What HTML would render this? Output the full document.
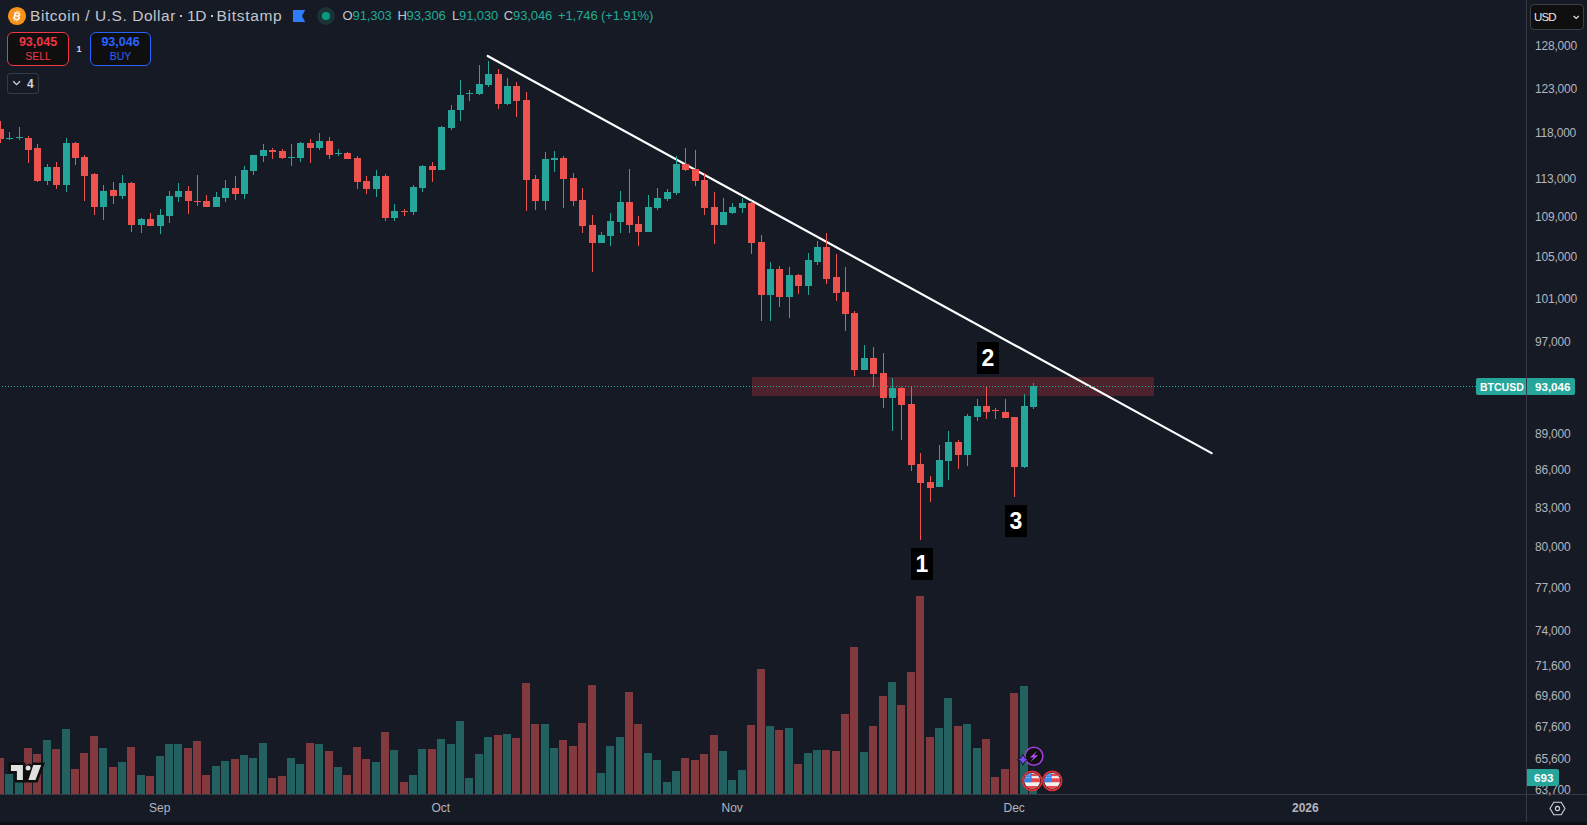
<!DOCTYPE html>
<html><head><meta charset="utf-8">
<style>
html,body{margin:0;padding:0;}
body{width:1587px;height:825px;background:#161a25;position:relative;overflow:hidden;font-family:"Liberation Sans",sans-serif;}
svg{position:absolute;left:0;top:0;}
.pl{position:absolute;left:1535px;font-size:12px;letter-spacing:-0.2px;line-height:15px;color:#b2b5be;white-space:nowrap;}
.tl{position:absolute;top:801px;font-size:12px;line-height:15px;color:#b2b5be;white-space:nowrap;}
.hd{position:absolute;white-space:nowrap;}
.v{color:#22ab94}
.tt{top:6px;font-size:15.5px;line-height:20px;color:#c3c6cd}
.oh{top:8px;font-size:13px;line-height:16px;color:#c3c6cd;letter-spacing:-0.1px}
.btn{position:absolute;border:1px solid;border-radius:6px;background:#0f0f0f;text-align:center;box-sizing:content-box}
.bp{font-size:12.5px;font-weight:bold;line-height:13px;margin-top:3px}
.bl{font-size:10.5px;line-height:12px;margin-top:1px}
</style></head><body>
<svg width="1587" height="825" viewBox="0 0 1587 825">
<rect x="752" y="377" width="402" height="19" fill="#4e222d"/>
<line x1="487.7" y1="56" x2="1211.6" y2="453.1" stroke="#ffffff" stroke-width="2.2" stroke-linecap="round"/>
<rect x="-4" y="758" width="8" height="36" fill="#823a3e"/>
<rect x="5" y="774" width="8" height="20" fill="#22615f"/>
<rect x="15" y="772" width="8" height="22" fill="#22615f"/>
<rect x="24" y="748" width="8" height="46" fill="#823a3e"/>
<rect x="33" y="754" width="8" height="40" fill="#823a3e"/>
<rect x="43" y="740" width="8" height="54" fill="#22615f"/>
<rect x="52" y="749" width="8" height="45" fill="#823a3e"/>
<rect x="62" y="729" width="8" height="65" fill="#22615f"/>
<rect x="71" y="769" width="8" height="25" fill="#823a3e"/>
<rect x="80" y="753" width="8" height="41" fill="#823a3e"/>
<rect x="90" y="736" width="8" height="58" fill="#823a3e"/>
<rect x="99" y="748" width="8" height="46" fill="#22615f"/>
<rect x="109" y="767" width="8" height="27" fill="#823a3e"/>
<rect x="118" y="762" width="8" height="32" fill="#22615f"/>
<rect x="127" y="747" width="8" height="47" fill="#823a3e"/>
<rect x="137" y="775" width="8" height="19" fill="#22615f"/>
<rect x="146" y="776" width="8" height="18" fill="#823a3e"/>
<rect x="156" y="756" width="8" height="38" fill="#22615f"/>
<rect x="165" y="744" width="8" height="50" fill="#22615f"/>
<rect x="174" y="744" width="8" height="50" fill="#22615f"/>
<rect x="184" y="748" width="8" height="46" fill="#823a3e"/>
<rect x="193" y="741" width="8" height="53" fill="#823a3e"/>
<rect x="202" y="775" width="8" height="19" fill="#823a3e"/>
<rect x="212" y="766" width="8" height="28" fill="#22615f"/>
<rect x="221" y="761" width="8" height="33" fill="#22615f"/>
<rect x="231" y="759" width="8" height="35" fill="#823a3e"/>
<rect x="240" y="755" width="8" height="39" fill="#22615f"/>
<rect x="249" y="758" width="8" height="36" fill="#22615f"/>
<rect x="259" y="743" width="8" height="51" fill="#22615f"/>
<rect x="268" y="778" width="8" height="16" fill="#823a3e"/>
<rect x="278" y="776" width="8" height="18" fill="#823a3e"/>
<rect x="287" y="758" width="8" height="36" fill="#22615f"/>
<rect x="296" y="764" width="8" height="30" fill="#22615f"/>
<rect x="306" y="743" width="8" height="51" fill="#823a3e"/>
<rect x="315" y="744" width="8" height="50" fill="#22615f"/>
<rect x="325" y="751" width="8" height="43" fill="#823a3e"/>
<rect x="334" y="767" width="8" height="27" fill="#22615f"/>
<rect x="343" y="775" width="8" height="19" fill="#823a3e"/>
<rect x="353" y="747" width="8" height="47" fill="#823a3e"/>
<rect x="362" y="759" width="8" height="35" fill="#823a3e"/>
<rect x="372" y="762" width="8" height="32" fill="#22615f"/>
<rect x="381" y="732" width="8" height="62" fill="#823a3e"/>
<rect x="390" y="750" width="8" height="44" fill="#22615f"/>
<rect x="400" y="782" width="8" height="12" fill="#823a3e"/>
<rect x="409" y="775" width="8" height="19" fill="#22615f"/>
<rect x="418" y="749" width="8" height="45" fill="#22615f"/>
<rect x="428" y="749" width="8" height="45" fill="#823a3e"/>
<rect x="437" y="739" width="8" height="55" fill="#22615f"/>
<rect x="447" y="744" width="8" height="50" fill="#22615f"/>
<rect x="456" y="721" width="8" height="73" fill="#22615f"/>
<rect x="465" y="778" width="8" height="16" fill="#22615f"/>
<rect x="475" y="754" width="8" height="40" fill="#22615f"/>
<rect x="484" y="737" width="8" height="57" fill="#22615f"/>
<rect x="494" y="735" width="8" height="59" fill="#823a3e"/>
<rect x="503" y="734" width="8" height="60" fill="#22615f"/>
<rect x="512" y="738" width="8" height="56" fill="#823a3e"/>
<rect x="522" y="683" width="8" height="111" fill="#823a3e"/>
<rect x="531" y="724" width="8" height="70" fill="#823a3e"/>
<rect x="541" y="724" width="8" height="70" fill="#22615f"/>
<rect x="550" y="748" width="8" height="46" fill="#22615f"/>
<rect x="559" y="740" width="8" height="54" fill="#823a3e"/>
<rect x="569" y="746" width="8" height="48" fill="#823a3e"/>
<rect x="578" y="723" width="8" height="71" fill="#823a3e"/>
<rect x="588" y="685" width="8" height="109" fill="#823a3e"/>
<rect x="597" y="773" width="8" height="21" fill="#22615f"/>
<rect x="606" y="746" width="8" height="48" fill="#22615f"/>
<rect x="616" y="737" width="8" height="57" fill="#22615f"/>
<rect x="625" y="692" width="8" height="102" fill="#823a3e"/>
<rect x="634" y="724" width="8" height="70" fill="#823a3e"/>
<rect x="644" y="753" width="8" height="41" fill="#22615f"/>
<rect x="653" y="760" width="8" height="34" fill="#22615f"/>
<rect x="663" y="782" width="8" height="12" fill="#22615f"/>
<rect x="672" y="771" width="8" height="23" fill="#22615f"/>
<rect x="681" y="758" width="8" height="36" fill="#823a3e"/>
<rect x="691" y="760" width="8" height="34" fill="#823a3e"/>
<rect x="700" y="754" width="8" height="40" fill="#823a3e"/>
<rect x="710" y="735" width="8" height="59" fill="#823a3e"/>
<rect x="719" y="751" width="8" height="43" fill="#22615f"/>
<rect x="728" y="780" width="8" height="14" fill="#22615f"/>
<rect x="738" y="770" width="8" height="24" fill="#22615f"/>
<rect x="747" y="725" width="8" height="69" fill="#823a3e"/>
<rect x="757" y="669" width="8" height="125" fill="#823a3e"/>
<rect x="766" y="726" width="8" height="68" fill="#22615f"/>
<rect x="775" y="730" width="8" height="64" fill="#823a3e"/>
<rect x="785" y="728" width="8" height="66" fill="#22615f"/>
<rect x="794" y="764" width="8" height="30" fill="#823a3e"/>
<rect x="804" y="753" width="8" height="41" fill="#22615f"/>
<rect x="813" y="750" width="8" height="44" fill="#22615f"/>
<rect x="822" y="750" width="8" height="44" fill="#823a3e"/>
<rect x="832" y="751" width="8" height="43" fill="#823a3e"/>
<rect x="841" y="714" width="8" height="80" fill="#823a3e"/>
<rect x="850" y="647" width="8" height="147" fill="#823a3e"/>
<rect x="860" y="752" width="8" height="42" fill="#22615f"/>
<rect x="869" y="726" width="8" height="68" fill="#823a3e"/>
<rect x="879" y="696" width="8" height="98" fill="#823a3e"/>
<rect x="888" y="682" width="8" height="112" fill="#22615f"/>
<rect x="897" y="705" width="8" height="89" fill="#823a3e"/>
<rect x="907" y="672" width="8" height="122" fill="#823a3e"/>
<rect x="916" y="596" width="8" height="198" fill="#823a3e"/>
<rect x="926" y="737" width="8" height="57" fill="#823a3e"/>
<rect x="935" y="728" width="8" height="66" fill="#22615f"/>
<rect x="944" y="698" width="8" height="96" fill="#22615f"/>
<rect x="954" y="726" width="8" height="68" fill="#823a3e"/>
<rect x="963" y="724" width="8" height="70" fill="#22615f"/>
<rect x="973" y="748" width="8" height="46" fill="#22615f"/>
<rect x="982" y="739" width="8" height="55" fill="#823a3e"/>
<rect x="991" y="777" width="8" height="17" fill="#823a3e"/>
<rect x="1001" y="769" width="8" height="25" fill="#823a3e"/>
<rect x="1010" y="693" width="8" height="101" fill="#823a3e"/>
<rect x="1020" y="686" width="8" height="108" fill="#22615f"/>
<rect x="1029" y="777" width="8" height="17" fill="#22615f"/>
<rect x="0" y="121" width="1" height="22" fill="#ef5350"/>
<rect x="-3" y="129" width="7" height="10" fill="#ef5350"/>
<rect x="9" y="132" width="1" height="8" fill="#26a69a"/>
<rect x="6" y="138" width="7" height="1" fill="#26a69a"/>
<rect x="19" y="127" width="1" height="13" fill="#26a69a"/>
<rect x="16" y="137" width="7" height="1" fill="#26a69a"/>
<rect x="28" y="136" width="1" height="27" fill="#ef5350"/>
<rect x="25" y="138" width="7" height="12" fill="#ef5350"/>
<rect x="37" y="144" width="1" height="38" fill="#ef5350"/>
<rect x="34" y="148" width="7" height="33" fill="#ef5350"/>
<rect x="47" y="164" width="1" height="21" fill="#26a69a"/>
<rect x="44" y="167" width="7" height="14" fill="#26a69a"/>
<rect x="56" y="162" width="1" height="27" fill="#ef5350"/>
<rect x="53" y="167" width="7" height="18" fill="#ef5350"/>
<rect x="66" y="138" width="1" height="54" fill="#26a69a"/>
<rect x="63" y="143" width="7" height="42" fill="#26a69a"/>
<rect x="75" y="142" width="1" height="23" fill="#ef5350"/>
<rect x="72" y="143" width="7" height="15" fill="#ef5350"/>
<rect x="84" y="155" width="1" height="46" fill="#ef5350"/>
<rect x="81" y="157" width="7" height="19" fill="#ef5350"/>
<rect x="94" y="173" width="1" height="42" fill="#ef5350"/>
<rect x="91" y="174" width="7" height="33" fill="#ef5350"/>
<rect x="103" y="185" width="1" height="35" fill="#26a69a"/>
<rect x="100" y="191" width="7" height="16" fill="#26a69a"/>
<rect x="113" y="182" width="1" height="22" fill="#ef5350"/>
<rect x="110" y="190" width="7" height="6" fill="#ef5350"/>
<rect x="122" y="175" width="1" height="24" fill="#26a69a"/>
<rect x="119" y="183" width="7" height="13" fill="#26a69a"/>
<rect x="131" y="182" width="1" height="50" fill="#ef5350"/>
<rect x="128" y="183" width="7" height="42" fill="#ef5350"/>
<rect x="141" y="218" width="1" height="15" fill="#26a69a"/>
<rect x="138" y="219" width="7" height="6" fill="#26a69a"/>
<rect x="150" y="213" width="1" height="13" fill="#ef5350"/>
<rect x="147" y="219" width="7" height="7" fill="#ef5350"/>
<rect x="160" y="209" width="1" height="25" fill="#26a69a"/>
<rect x="157" y="215" width="7" height="11" fill="#26a69a"/>
<rect x="169" y="191" width="1" height="32" fill="#26a69a"/>
<rect x="166" y="196" width="7" height="20" fill="#26a69a"/>
<rect x="178" y="183" width="1" height="19" fill="#26a69a"/>
<rect x="175" y="191" width="7" height="6" fill="#26a69a"/>
<rect x="188" y="186" width="1" height="28" fill="#ef5350"/>
<rect x="185" y="191" width="7" height="10" fill="#ef5350"/>
<rect x="197" y="175" width="1" height="31" fill="#ef5350"/>
<rect x="194" y="201" width="7" height="1" fill="#ef5350"/>
<rect x="206" y="195" width="1" height="12" fill="#ef5350"/>
<rect x="203" y="201" width="7" height="6" fill="#ef5350"/>
<rect x="216" y="192" width="1" height="15" fill="#26a69a"/>
<rect x="213" y="197" width="7" height="10" fill="#26a69a"/>
<rect x="225" y="180" width="1" height="22" fill="#26a69a"/>
<rect x="222" y="188" width="7" height="10" fill="#26a69a"/>
<rect x="235" y="176" width="1" height="24" fill="#ef5350"/>
<rect x="232" y="188" width="7" height="6" fill="#ef5350"/>
<rect x="244" y="166" width="1" height="33" fill="#26a69a"/>
<rect x="241" y="170" width="7" height="24" fill="#26a69a"/>
<rect x="253" y="155" width="1" height="20" fill="#26a69a"/>
<rect x="250" y="155" width="7" height="16" fill="#26a69a"/>
<rect x="263" y="144" width="1" height="18" fill="#26a69a"/>
<rect x="260" y="150" width="7" height="6" fill="#26a69a"/>
<rect x="272" y="148" width="1" height="11" fill="#ef5350"/>
<rect x="269" y="150" width="7" height="2" fill="#ef5350"/>
<rect x="282" y="149" width="1" height="10" fill="#ef5350"/>
<rect x="279" y="151" width="7" height="7" fill="#ef5350"/>
<rect x="291" y="144" width="1" height="22" fill="#26a69a"/>
<rect x="288" y="157" width="7" height="1" fill="#26a69a"/>
<rect x="300" y="142" width="1" height="20" fill="#26a69a"/>
<rect x="297" y="143" width="7" height="15" fill="#26a69a"/>
<rect x="310" y="139" width="1" height="24" fill="#ef5350"/>
<rect x="307" y="143" width="7" height="5" fill="#ef5350"/>
<rect x="319" y="133" width="1" height="17" fill="#26a69a"/>
<rect x="316" y="141" width="7" height="7" fill="#26a69a"/>
<rect x="329" y="137" width="1" height="22" fill="#ef5350"/>
<rect x="326" y="141" width="7" height="14" fill="#ef5350"/>
<rect x="338" y="149" width="1" height="7" fill="#26a69a"/>
<rect x="335" y="153" width="7" height="1" fill="#26a69a"/>
<rect x="347" y="152" width="1" height="7" fill="#ef5350"/>
<rect x="344" y="153" width="7" height="6" fill="#ef5350"/>
<rect x="357" y="156" width="1" height="33" fill="#ef5350"/>
<rect x="354" y="158" width="7" height="24" fill="#ef5350"/>
<rect x="366" y="176" width="1" height="18" fill="#ef5350"/>
<rect x="363" y="181" width="7" height="8" fill="#ef5350"/>
<rect x="376" y="170" width="1" height="27" fill="#26a69a"/>
<rect x="373" y="176" width="7" height="13" fill="#26a69a"/>
<rect x="385" y="174" width="1" height="47" fill="#ef5350"/>
<rect x="382" y="176" width="7" height="42" fill="#ef5350"/>
<rect x="394" y="204" width="1" height="17" fill="#26a69a"/>
<rect x="391" y="211" width="7" height="7" fill="#26a69a"/>
<rect x="404" y="209" width="1" height="7" fill="#ef5350"/>
<rect x="401" y="211" width="7" height="1" fill="#ef5350"/>
<rect x="413" y="185" width="1" height="30" fill="#26a69a"/>
<rect x="410" y="187" width="7" height="25" fill="#26a69a"/>
<rect x="422" y="165" width="1" height="27" fill="#26a69a"/>
<rect x="419" y="166" width="7" height="22" fill="#26a69a"/>
<rect x="432" y="162" width="1" height="20" fill="#ef5350"/>
<rect x="429" y="166" width="7" height="4" fill="#ef5350"/>
<rect x="441" y="126" width="1" height="44" fill="#26a69a"/>
<rect x="438" y="127" width="7" height="43" fill="#26a69a"/>
<rect x="451" y="105" width="1" height="25" fill="#26a69a"/>
<rect x="448" y="110" width="7" height="18" fill="#26a69a"/>
<rect x="460" y="80" width="1" height="41" fill="#26a69a"/>
<rect x="457" y="95" width="7" height="15" fill="#26a69a"/>
<rect x="469" y="90" width="1" height="11" fill="#26a69a"/>
<rect x="466" y="93" width="7" height="1" fill="#26a69a"/>
<rect x="479" y="65" width="1" height="30" fill="#26a69a"/>
<rect x="476" y="84" width="7" height="10" fill="#26a69a"/>
<rect x="488" y="61" width="1" height="26" fill="#26a69a"/>
<rect x="485" y="74" width="7" height="11" fill="#26a69a"/>
<rect x="498" y="69" width="1" height="40" fill="#ef5350"/>
<rect x="495" y="74" width="7" height="30" fill="#ef5350"/>
<rect x="507" y="78" width="1" height="27" fill="#26a69a"/>
<rect x="504" y="86" width="7" height="18" fill="#26a69a"/>
<rect x="516" y="82" width="1" height="35" fill="#ef5350"/>
<rect x="513" y="86" width="7" height="15" fill="#ef5350"/>
<rect x="526" y="92" width="1" height="119" fill="#ef5350"/>
<rect x="523" y="100" width="7" height="80" fill="#ef5350"/>
<rect x="535" y="175" width="1" height="35" fill="#ef5350"/>
<rect x="532" y="179" width="7" height="22" fill="#ef5350"/>
<rect x="545" y="152" width="1" height="58" fill="#26a69a"/>
<rect x="542" y="159" width="7" height="42" fill="#26a69a"/>
<rect x="554" y="151" width="1" height="21" fill="#26a69a"/>
<rect x="551" y="158" width="7" height="2" fill="#26a69a"/>
<rect x="563" y="156" width="1" height="52" fill="#ef5350"/>
<rect x="560" y="158" width="7" height="21" fill="#ef5350"/>
<rect x="573" y="173" width="1" height="33" fill="#ef5350"/>
<rect x="570" y="178" width="7" height="23" fill="#ef5350"/>
<rect x="582" y="188" width="1" height="45" fill="#ef5350"/>
<rect x="579" y="200" width="7" height="26" fill="#ef5350"/>
<rect x="592" y="215" width="1" height="57" fill="#ef5350"/>
<rect x="589" y="225" width="7" height="18" fill="#ef5350"/>
<rect x="601" y="232" width="1" height="11" fill="#26a69a"/>
<rect x="598" y="235" width="7" height="8" fill="#26a69a"/>
<rect x="610" y="213" width="1" height="33" fill="#26a69a"/>
<rect x="607" y="221" width="7" height="15" fill="#26a69a"/>
<rect x="620" y="191" width="1" height="42" fill="#26a69a"/>
<rect x="617" y="202" width="7" height="20" fill="#26a69a"/>
<rect x="629" y="169" width="1" height="64" fill="#ef5350"/>
<rect x="626" y="202" width="7" height="23" fill="#ef5350"/>
<rect x="638" y="216" width="1" height="30" fill="#ef5350"/>
<rect x="635" y="224" width="7" height="8" fill="#ef5350"/>
<rect x="648" y="195" width="1" height="37" fill="#26a69a"/>
<rect x="645" y="207" width="7" height="25" fill="#26a69a"/>
<rect x="657" y="188" width="1" height="22" fill="#26a69a"/>
<rect x="654" y="198" width="7" height="10" fill="#26a69a"/>
<rect x="667" y="189" width="1" height="12" fill="#26a69a"/>
<rect x="664" y="192" width="7" height="7" fill="#26a69a"/>
<rect x="676" y="156" width="1" height="39" fill="#26a69a"/>
<rect x="673" y="164" width="7" height="29" fill="#26a69a"/>
<rect x="685" y="148" width="1" height="23" fill="#ef5350"/>
<rect x="682" y="164" width="7" height="6" fill="#ef5350"/>
<rect x="695" y="150" width="1" height="36" fill="#ef5350"/>
<rect x="692" y="169" width="7" height="12" fill="#ef5350"/>
<rect x="704" y="173" width="1" height="42" fill="#ef5350"/>
<rect x="701" y="180" width="7" height="28" fill="#ef5350"/>
<rect x="714" y="192" width="1" height="52" fill="#ef5350"/>
<rect x="711" y="207" width="7" height="18" fill="#ef5350"/>
<rect x="723" y="198" width="1" height="27" fill="#26a69a"/>
<rect x="720" y="212" width="7" height="13" fill="#26a69a"/>
<rect x="732" y="203" width="1" height="11" fill="#26a69a"/>
<rect x="729" y="207" width="7" height="6" fill="#26a69a"/>
<rect x="742" y="198" width="1" height="15" fill="#26a69a"/>
<rect x="739" y="203" width="7" height="5" fill="#26a69a"/>
<rect x="751" y="201" width="1" height="53" fill="#ef5350"/>
<rect x="748" y="203" width="7" height="40" fill="#ef5350"/>
<rect x="761" y="235" width="1" height="86" fill="#ef5350"/>
<rect x="758" y="242" width="7" height="53" fill="#ef5350"/>
<rect x="770" y="262" width="1" height="59" fill="#26a69a"/>
<rect x="767" y="269" width="7" height="26" fill="#26a69a"/>
<rect x="779" y="266" width="1" height="41" fill="#ef5350"/>
<rect x="776" y="269" width="7" height="28" fill="#ef5350"/>
<rect x="789" y="267" width="1" height="51" fill="#26a69a"/>
<rect x="786" y="275" width="7" height="22" fill="#26a69a"/>
<rect x="798" y="274" width="1" height="20" fill="#ef5350"/>
<rect x="795" y="275" width="7" height="11" fill="#ef5350"/>
<rect x="808" y="253" width="1" height="42" fill="#26a69a"/>
<rect x="805" y="260" width="7" height="26" fill="#26a69a"/>
<rect x="817" y="241" width="1" height="24" fill="#26a69a"/>
<rect x="814" y="247" width="7" height="15" fill="#26a69a"/>
<rect x="826" y="233" width="1" height="51" fill="#ef5350"/>
<rect x="823" y="247" width="7" height="32" fill="#ef5350"/>
<rect x="836" y="254" width="1" height="47" fill="#ef5350"/>
<rect x="833" y="277" width="7" height="16" fill="#ef5350"/>
<rect x="845" y="267" width="1" height="64" fill="#ef5350"/>
<rect x="842" y="292" width="7" height="22" fill="#ef5350"/>
<rect x="854" y="311" width="1" height="65" fill="#ef5350"/>
<rect x="851" y="313" width="7" height="57" fill="#ef5350"/>
<rect x="864" y="345" width="1" height="25" fill="#26a69a"/>
<rect x="861" y="358" width="7" height="12" fill="#26a69a"/>
<rect x="873" y="347" width="1" height="40" fill="#ef5350"/>
<rect x="870" y="358" width="7" height="16" fill="#ef5350"/>
<rect x="883" y="353" width="1" height="55" fill="#ef5350"/>
<rect x="880" y="373" width="7" height="25" fill="#ef5350"/>
<rect x="892" y="378" width="1" height="53" fill="#26a69a"/>
<rect x="889" y="388" width="7" height="10" fill="#26a69a"/>
<rect x="901" y="387" width="1" height="53" fill="#ef5350"/>
<rect x="898" y="388" width="7" height="17" fill="#ef5350"/>
<rect x="911" y="386" width="1" height="85" fill="#ef5350"/>
<rect x="908" y="404" width="7" height="61" fill="#ef5350"/>
<rect x="920" y="453" width="1" height="87" fill="#ef5350"/>
<rect x="917" y="464" width="7" height="19" fill="#ef5350"/>
<rect x="930" y="476" width="1" height="26" fill="#ef5350"/>
<rect x="927" y="482" width="7" height="6" fill="#ef5350"/>
<rect x="939" y="445" width="1" height="42" fill="#26a69a"/>
<rect x="936" y="460" width="7" height="27" fill="#26a69a"/>
<rect x="948" y="431" width="1" height="49" fill="#26a69a"/>
<rect x="945" y="442" width="7" height="19" fill="#26a69a"/>
<rect x="958" y="440" width="1" height="29" fill="#ef5350"/>
<rect x="955" y="442" width="7" height="13" fill="#ef5350"/>
<rect x="967" y="414" width="1" height="52" fill="#26a69a"/>
<rect x="964" y="416" width="7" height="39" fill="#26a69a"/>
<rect x="977" y="399" width="1" height="22" fill="#26a69a"/>
<rect x="974" y="406" width="7" height="11" fill="#26a69a"/>
<rect x="986" y="386" width="1" height="33" fill="#ef5350"/>
<rect x="983" y="406" width="7" height="6" fill="#ef5350"/>
<rect x="995" y="408" width="1" height="11" fill="#ef5350"/>
<rect x="992" y="410" width="7" height="1" fill="#ef5350"/>
<rect x="1005" y="399" width="1" height="19" fill="#ef5350"/>
<rect x="1002" y="412" width="7" height="6" fill="#ef5350"/>
<rect x="1014" y="417" width="1" height="80" fill="#ef5350"/>
<rect x="1011" y="417" width="7" height="50" fill="#ef5350"/>
<rect x="1024" y="394" width="1" height="74" fill="#26a69a"/>
<rect x="1021" y="406" width="7" height="61" fill="#26a69a"/>
<rect x="1033" y="383" width="1" height="26" fill="#26a69a"/>
<rect x="1030" y="386" width="7" height="21" fill="#26a69a"/>
<line x1="0" y1="386.5" x2="1476" y2="386.5" stroke="#26a69a" stroke-width="1" stroke-dasharray="1 2" stroke-dashoffset="-2"/>
<rect x="977" y="342" width="22" height="32" fill="#000"/>
<text x="988" y="366" fill="#fff" font-size="23" font-weight="bold" text-anchor="middle" font-family="Liberation Sans, sans-serif">2</text>
<rect x="911" y="548" width="22" height="32" fill="#000"/>
<text x="922" y="572" fill="#fff" font-size="23" font-weight="bold" text-anchor="middle" font-family="Liberation Sans, sans-serif">1</text>
<rect x="1005" y="505" width="22" height="32" fill="#000"/>
<text x="1016" y="529" fill="#fff" font-size="23" font-weight="bold" text-anchor="middle" font-family="Liberation Sans, sans-serif">3</text>
<rect x="1526" y="0" width="1" height="822" fill="#363a45"/>
<rect x="0" y="794" width="1587" height="1" fill="#363a45"/>
<rect x="0" y="822" width="1587" height="3" fill="#0e0f12"/>
</svg>
<div class="pl" style="top:39.0px">128,000</div>
<div class="pl" style="top:81.5px">123,000</div>
<div class="pl" style="top:125.8px">118,000</div>
<div class="pl" style="top:172.0px">113,000</div>
<div class="pl" style="top:210.4px">109,000</div>
<div class="pl" style="top:250.3px">105,000</div>
<div class="pl" style="top:291.7px">101,000</div>
<div class="pl" style="top:334.8px">97,000</div>
<div class="pl" style="top:426.6px">89,000</div>
<div class="pl" style="top:463.2px">86,000</div>
<div class="pl" style="top:501.1px">83,000</div>
<div class="pl" style="top:540.3px">80,000</div>
<div class="pl" style="top:581.1px">77,000</div>
<div class="pl" style="top:623.5px">74,000</div>
<div class="pl" style="top:658.6px">71,600</div>
<div class="pl" style="top:688.9px">69,600</div>
<div class="pl" style="top:720.0px">67,600</div>
<div class="pl" style="top:752.0px">65,600</div>
<div class="pl" style="top:783.3px">63,700</div>

<svg width="40" height="32" style="left:0;top:0">
<circle cx="17" cy="16" r="9.1" fill="#f7931a"/>
<text x="17.2" y="19.8" fill="#fff" font-size="10.5" font-weight="bold" text-anchor="middle" font-family="Liberation Sans, sans-serif" transform="rotate(14 17 16)">B</text>
<rect x="15.5" y="10.9" width="1" height="1.6" fill="#fff" transform="rotate(14 17 16)"/>
<rect x="17.6" y="10.9" width="1" height="1.6" fill="#fff" transform="rotate(14 17 16)"/>
<rect x="15.5" y="19.6" width="1" height="1.6" fill="#fff" transform="rotate(14 17 16)"/>
<rect x="17.6" y="19.6" width="1" height="1.6" fill="#fff" transform="rotate(14 17 16)"/>
</svg>
<div class="hd tt" style="left:30px;letter-spacing:0.55px">Bitcoin / U.S. Dollar</div>
<div class="hd" style="left:179.5px;top:15px;width:2.2px;height:2.2px;background:#c3c6cd"></div>
<div class="hd tt" style="left:187px;letter-spacing:-0.3px">1D</div>
<div class="hd" style="left:210.5px;top:15px;width:2.2px;height:2.2px;background:#c3c6cd"></div>
<div class="hd tt" style="left:216.5px;letter-spacing:0.7px">Bitstamp</div>
<svg width="360" height="32" style="left:0;top:0">
<path d="M293 10 H305.2 L302 16 L305.2 22 H293 Z" fill="#2f7bff"/>
<circle cx="326" cy="16" r="8.9" fill="#1a3436"/>
<circle cx="326" cy="16" r="4.1" fill="#089981"/>
</svg>
<div class="hd oh" style="left:342.5px;">O</div>
<div class="hd oh" style="left:352.5px;color:#22ab94">91,303</div>
<div class="hd oh" style="left:397.6px;">H</div>
<div class="hd oh" style="left:406.5px;color:#22ab94">93,306</div>
<div class="hd oh" style="left:452px;">L</div>
<div class="hd oh" style="left:459px;color:#22ab94">91,030</div>
<div class="hd oh" style="left:503.7px;">C</div>
<div class="hd oh" style="left:513px;color:#22ab94">93,046</div>
<div class="hd oh" style="left:558px;color:#22ab94">+1,746</div>
<div class="hd oh" style="left:601px;color:#22ab94">(+1.91%)</div>
<div class="btn" style="left:7px;top:32px;width:60px;height:32px;border-color:#f23645">
  <div class="bp" style="color:#f23645">93,045</div><div class="bl" style="color:#f23645">SELL</div>
</div>
<div class="hd" style="left:76.5px;top:43.5px;font-size:9px;font-weight:bold;line-height:11px;color:#d1d4dc">1</div>
<div class="btn" style="left:90px;top:32px;width:59px;height:32px;border-color:#2962ff">
  <div class="bp" style="color:#2962ff">93,046</div><div class="bl" style="color:#2962ff">BUY</div>
</div>
<div class="hd" style="left:7px;top:73px;width:30px;height:19px;border:1px solid #363a45;border-radius:3px;box-sizing:content-box"></div>
<svg width="40" height="100" style="left:0;top:0">
<path d="M13.2 81.2 L16.6 84.6 L20 81.2" stroke="#d1d4dc" stroke-width="1.3" fill="none"/>
</svg>
<div class="hd" style="left:27px;top:77px;font-size:12px;font-weight:bold;line-height:15px;color:#d1d4dc">4</div>


<div class="hd" style="left:1530px;top:4px;width:52px;height:24px;border:1px solid #3c3f46;border-radius:4px;background:#0f0f0f;box-sizing:content-box"></div>
<div class="hd" style="left:1534px;top:9.5px;font-size:11.5px;line-height:14px;letter-spacing:-0.9px;color:#e8e8e8">USD</div>
<svg width="1587" height="40" style="left:0;top:0"><path d="M1573.6 16 L1576.2 18.4 L1578.8 16" stroke="#e0e0e0" stroke-width="1.3" fill="none"/></svg>
<div class="hd" style="left:1476px;top:378px;width:50px;height:17px;background:#26a69a;border-radius:2px 0 0 2px"></div>
<div class="hd" style="left:1527px;top:378px;width:48px;height:17px;background:#26a69a;border-radius:0 2px 2px 0"></div>
<div class="hd" style="left:1480px;top:379.5px;font-size:10.5px;font-weight:bold;line-height:14px;color:#fff">BTCUSD</div>
<div class="hd" style="left:1535px;top:379.5px;font-size:11.6px;font-weight:bold;line-height:14px;color:#fff">93,046</div>
<div class="hd" style="left:1527px;top:769px;width:32px;height:17px;background:#26a69a;border-radius:0 2px 2px 0"></div>
<div class="hd" style="left:1534px;top:770.5px;font-size:11.6px;font-weight:bold;line-height:14px;color:#fff">693</div>
<svg width="1587" height="825" style="left:0;top:0">
<path d="M1553.8 802.2 L1561.2 802.2 L1565 808.5 L1561.2 814.8 L1553.8 814.8 L1550 808.5 Z" stroke="#d1d4dc" stroke-width="1.1" fill="none"/>
<circle cx="1557.5" cy="808.5" r="2.1" stroke="#d1d4dc" stroke-width="1.1" fill="none"/>
<path d="M11 765 H23 V771 M17 771 V780 H23 V771" fill="none" stroke="#000" stroke-width="0"/>
<path d="M8.5 762.5 H25.5 V767 A3.5 3.5 0 0 1 31.6 765 L32 762.5 H45 L37.5 782.5 H15 V773.5 H8.5 Z" fill="#0d0d0d"/>
<path d="M10.9 765 H22.9 V780 H16.9 V771 H10.9 Z" fill="#e0e0e0"/>
<circle cx="28.1" cy="768" r="2.5" fill="#e0e0e0"/>
<path d="M33.3 765 H41.2 L35.5 780 H28.4 Z" fill="#e0e0e0"/>
<circle cx="1033.9" cy="756.3" r="9" fill="#0f0f0f" stroke="#9d3ed6" stroke-width="1.6"/>
<path d="M1037.2 750.8 L1029.8 757.6 L1033.6 757.6 L1030.2 762.2 L1038.2 755.2 L1034.2 755.2 Z" fill="#b04be8"/>
<path d="M1022.9 754.2 Q1023.8 758.8 1028.4 759.7 Q1023.8 760.6 1022.9 765.2 Q1022 760.6 1017.4 759.7 Q1022 758.8 1022.9 754.2 Z" fill="#7a4cf5" stroke="#0d0d0d" stroke-width="0.8"/>
<circle cx="1032.2" cy="780.9" r="9.4" fill="#0d0d0d" stroke="#e0303a" stroke-width="1.8"/>
<clipPath id="fc1"><circle cx="1032.2" cy="780.9" r="7.9"/></clipPath>
<g clip-path="url(#fc1)">
<rect x="1024.0" y="772.8" width="17" height="17" fill="#f0f0f0"/>
<rect x="1024.0" y="773.9" width="17" height="2.2" fill="#e8484d"/>
<rect x="1024.0" y="778.3" width="17" height="3.9" fill="#e8484d"/>
<rect x="1024.0" y="786.0" width="17" height="4" fill="#e8484d"/>
<rect x="1024.0" y="772.8" width="7.6" height="9.4" fill="#3d84ea"/>
<rect x="1026.2" y="774.4" width="1" height="1" fill="#cfe0ff"/><rect x="1028.6000000000001" y="774.4" width="1" height="1" fill="#cfe0ff"/>
<rect x="1026.2" y="777.1" width="1" height="1" fill="#cfe0ff"/><rect x="1028.6000000000001" y="777.1" width="1" height="1" fill="#cfe0ff"/>
</g>
<circle cx="1052.2" cy="780.9" r="9.4" fill="#0d0d0d" stroke="#e0303a" stroke-width="1.8"/>
<clipPath id="fc2"><circle cx="1052.2" cy="780.9" r="7.9"/></clipPath>
<g clip-path="url(#fc2)">
<rect x="1044.0" y="772.8" width="17" height="17" fill="#f0f0f0"/>
<rect x="1044.0" y="773.9" width="17" height="2.2" fill="#e8484d"/>
<rect x="1044.0" y="778.3" width="17" height="3.9" fill="#e8484d"/>
<rect x="1044.0" y="786.0" width="17" height="4" fill="#e8484d"/>
<rect x="1044.0" y="772.8" width="7.6" height="9.4" fill="#3d84ea"/>
<rect x="1046.2" y="774.4" width="1" height="1" fill="#cfe0ff"/><rect x="1048.6000000000001" y="774.4" width="1" height="1" fill="#cfe0ff"/>
<rect x="1046.2" y="777.1" width="1" height="1" fill="#cfe0ff"/><rect x="1048.6000000000001" y="777.1" width="1" height="1" fill="#cfe0ff"/>
</g>
</svg>

<div class="tl" style="left:149px">Sep</div>
<div class="tl" style="left:431.5px">Oct</div>
<div class="tl" style="left:721.5px">Nov</div>
<div class="tl" style="left:1003.5px">Dec</div>
<div class="tl" style="left:1292px;font-weight:bold">2026</div>
</body></html>
